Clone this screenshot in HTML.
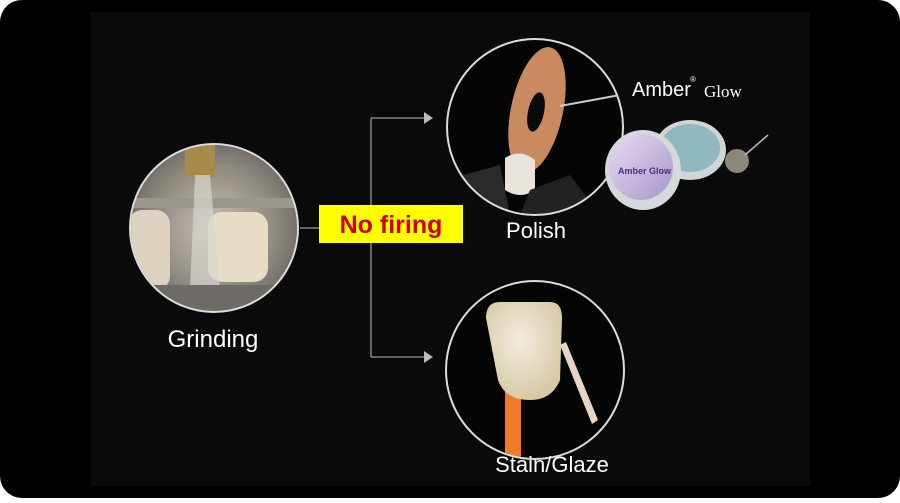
<!DOCTYPE html>
<html><head><meta charset="utf-8"><style>
html,body{margin:0;padding:0;background:#fff;}
body{width:900px;height:498px;overflow:hidden;font-family:"Liberation Sans",sans-serif;}
</style></head><body>
<svg width="900" height="498" viewBox="0 0 900 498" xmlns="http://www.w3.org/2000/svg">
<defs>
<radialGradient id="gr" cx="0.5" cy="0.5" r="0.6"><stop offset="0" stop-color="#c9c2b4"/><stop offset="0.6" stop-color="#8f8a80"/><stop offset="1" stop-color="#5d5a55"/></radialGradient>
<radialGradient id="tooth" cx="0.45" cy="0.4" r="0.6"><stop offset="0" stop-color="#f3ece0"/><stop offset="1" stop-color="#d8caa6"/></radialGradient>
<linearGradient id="jar" x1="0" y1="0" x2="1" y2="1"><stop offset="0" stop-color="#e6dcf2"/><stop offset="1" stop-color="#a996c8"/></linearGradient>
<clipPath id="c1"><circle cx="214" cy="228" r="83"/></clipPath>
<clipPath id="c2"><circle cx="535" cy="127" r="87"/></clipPath>
<clipPath id="c3"><circle cx="535" cy="370" r="88"/></clipPath>
</defs>
<rect x="0" y="0" width="900" height="498" rx="22" fill="#000"/>
<rect x="90" y="12" width="720" height="474" fill="#0a0a0a"/>

<g clip-path="url(#c1)">
<rect x="128" y="142" width="172" height="172" fill="url(#gr)"/>
<rect x="185" y="142" width="30" height="35" fill="#a88b4a"/>
<rect x="128" y="198" width="172" height="10" fill="#9a968e"/>
<rect x="128" y="210" width="42" height="80" rx="14" fill="#ddd3c0"/>
<rect x="208" y="212" width="60" height="70" rx="14" fill="#e7dcc5"/>
<path d="M195 175 L210 175 L220 290 L190 290 Z" fill="#d8d6d0" opacity="0.7"/>
<rect x="128" y="285" width="172" height="30" fill="#6e6b66"/>
</g>
<circle cx="214" cy="228" r="84" fill="none" stroke="#ddd" stroke-width="2"/>

<g clip-path="url(#c2)">
<rect x="446" y="38" width="178" height="178" fill="#050505"/>
<ellipse cx="537" cy="110" rx="26" ry="64" transform="rotate(12 537 110)" fill="#c98a60"/>
<ellipse cx="536" cy="112" rx="8" ry="20" transform="rotate(12 536 112)" fill="#0a0a0a"/>
<line x1="560" y1="106" x2="620" y2="95" stroke="#ccc" stroke-width="2"/>
<path d="M505 158 Q520 148 535 160 L535 190 Q520 200 505 190 Z" fill="#e9e4db"/>
<path d="M445 180 L500 165 L510 215 L445 215 Z" fill="#2a2a2a"/>
<path d="M530 190 L570 175 L600 215 L520 215 Z" fill="#222"/>
</g>
<circle cx="535" cy="127" r="88" fill="none" stroke="#ddd" stroke-width="2"/>

<text x="632" y="96" fill="#fff" font-size="20" font-family="Liberation Sans,sans-serif">Amber</text>
<text x="690" y="82" fill="#fff" font-size="8">®</text>
<text x="704" y="97" fill="#fff" font-size="17" font-family="Liberation Serif,serif">Glow</text>
<ellipse cx="690" cy="150" rx="36" ry="30" fill="#cfd6d8"/>
<ellipse cx="690" cy="148" rx="30" ry="24" fill="#8fb8bf"/>
<ellipse cx="643" cy="170" rx="38" ry="40" fill="#d5d9dc"/>
<ellipse cx="641" cy="167" rx="32" ry="33" fill="url(#jar)"/>
<text x="618" y="174" fill="#4a2f80" font-size="9" font-weight="bold">Amber Glow</text>
<circle cx="737" cy="161" r="12" fill="#8c8878"/>
<line x1="745" y1="155" x2="768" y2="135" stroke="#bbb" stroke-width="1.5"/>

<g clip-path="url(#c3)">
<rect x="446" y="280" width="178" height="180" fill="#050505"/>
<rect x="505" y="370" width="16" height="95" fill="#f07a2a"/>
<path d="M486 318 Q486 302 500 302 L550 302 Q562 302 562 318 L560 380 Q552 400 530 400 Q505 400 498 380 Z" fill="url(#tooth)"/>
<path d="M560 345 L566 342 L598 420 L592 424 Z" fill="#e9d5c5"/>
</g>
<circle cx="535" cy="370" r="89" fill="none" stroke="#ddd" stroke-width="2"/>

<g stroke="#999" stroke-width="1.3" fill="none">
<line x1="300" y1="228" x2="320" y2="228"/>
<line x1="371" y1="118" x2="371" y2="357"/>
<line x1="371" y1="118" x2="426" y2="118"/>
<line x1="371" y1="357" x2="426" y2="357"/>
</g>
<path d="M424 112 L433 118 L424 124 Z" fill="#bbb"/>
<path d="M424 351 L433 357 L424 363 Z" fill="#bbb"/>

<rect x="319" y="205" width="144" height="38" fill="#ffff00"/>
<text x="391" y="233" text-anchor="middle" fill="#d00000" font-size="25" font-weight="bold">No firing</text>

<text x="213" y="347" text-anchor="middle" fill="#fff" font-size="24">Grinding</text>
<text x="536" y="238" text-anchor="middle" fill="#fff" font-size="22">Polish</text>
<text x="552" y="472" text-anchor="middle" fill="#fff" font-size="22">Stain/Glaze</text>
</svg>
</body></html>
